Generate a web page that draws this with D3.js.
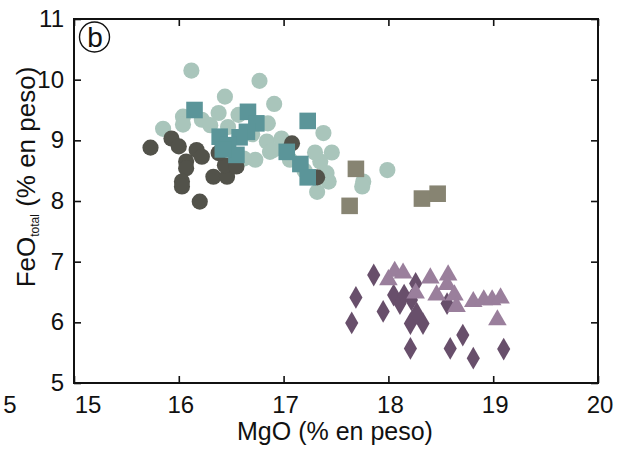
<!DOCTYPE html>
<html>
<head>
<meta charset="utf-8">
<script src="https://cdn.jsdelivr.net/npm/d3@7"></script>
<style>
  body { margin: 0; background: #fff; }
  text { font-family: "Liberation Sans", Arial, sans-serif; fill: #111; }
</style>
</head>
<body>
<svg id="chart" width="623" height="450"></svg>
<script>
// MgO, FeO pairs
const lightCircles = [
  [16.12, 10.15], [16.77, 9.98], [16.44, 9.72], [16.91, 9.60], [15.85, 9.19],
  [16.04, 9.39], [16.04, 9.26], [16.22, 9.34], [16.38, 9.45], [16.57, 9.42],
  [16.47, 9.22], [16.85, 9.28], [16.73, 8.68], [16.84, 8.98], [16.87, 8.81],
  [16.98, 9.03], [17.38, 9.12], [17.46, 8.80], [17.35, 8.65], [17.41, 8.46],
  [17.43, 8.32], [17.32, 8.15], [17.76, 8.32], [17.75, 8.24], [17.99, 8.51],
  [17.06, 8.68], [16.90, 8.84], [16.62, 8.70], [17.20, 8.50], [16.70, 9.10],
  [16.30, 9.25], [17.30, 8.80]
]
const darkCircles = [
  [15.73, 8.88], [15.93, 9.03], [16.00, 8.90], [16.17, 8.84], [16.22, 8.73],
  [16.07, 8.65], [16.07, 8.54], [16.03, 8.32], [16.03, 8.24], [16.20, 7.99],
  [16.33, 8.40], [16.46, 8.40], [16.44, 8.59], [16.55, 8.57], [16.38, 8.79],
  [17.08, 8.95], [17.32, 8.39]
]
const tealSquares = [
  [16.15, 9.50], [16.66, 9.47], [16.74, 9.28], [16.65, 9.14], [16.58, 9.05],
  [16.39, 9.06], [16.47, 8.92], [16.55, 8.76], [16.42, 8.85], [17.23, 9.32],
  [17.03, 8.81], [17.16, 8.61], [17.23, 8.39]
]
const graySquares = [
  [17.69, 8.53], [17.63, 7.92], [18.32, 8.04], [18.47, 8.12]
]
const diamonds = [
  [17.86, 6.78], [17.69, 6.41], [17.65, 5.99], [17.95, 6.18], [18.05, 6.45],
  [18.11, 6.31], [18.22, 6.37], [18.26, 6.64], [18.21, 5.98], [18.33, 5.98],
  [18.27, 6.15], [18.21, 5.57], [18.59, 5.57], [18.71, 5.79], [18.81, 5.41],
  [19.10, 5.56], [18.56, 6.31], [18.15, 6.45]
]
const triangles = [
  [18.06, 6.84], [18.14, 6.81], [18.00, 6.70], [18.40, 6.73], [18.57, 6.78],
  [18.56, 6.62], [18.26, 6.48], [18.46, 6.45], [18.63, 6.45], [18.65, 6.26],
  [18.81, 6.34], [18.91, 6.37], [18.99, 6.37], [19.07, 6.40], [19.04, 6.04]
]
const xTicks = [15, 16, 17, 18, 19, 20]
const yTicks = [5, 6, 7, 8, 9, 10, 11]

const svg = d3.select('#chart')
const m = { left: 74, right: 598, top: 19, bottom: 383 }

const x = d3.scaleLinear().domain([15, 20]).range([m.left, m.right])
const y = d3.scaleLinear().domain([5, 11]).range([m.bottom, m.top])

// inward ticks on all four sides
svg.append('g').attr('transform', `translate(0,${m.bottom})`)
  .call(d3.axisTop(x).tickValues(xTicks).tickSize(7).tickFormat(''))
svg.append('g').attr('transform', `translate(0,${m.top})`)
  .call(d3.axisBottom(x).tickValues(xTicks).tickSize(7).tickFormat(''))
svg.append('g').attr('transform', `translate(${m.left},0)`)
  .call(d3.axisRight(y).tickValues(yTicks).tickSize(7).tickFormat(''))
svg.append('g').attr('transform', `translate(${m.right},0)`)
  .call(d3.axisLeft(y).tickValues(yTicks).tickSize(7).tickFormat(''))
svg.selectAll('.domain').remove()
svg.selectAll('.tick line').attr('stroke', '#111').attr('stroke-width', 1.6)

// tick labels
svg.append('g').selectAll('text').data(xTicks).join('text')
  .attr('x', d => x(d) + (d === 15 ? 14 : 2))
  .attr('y', 413)
  .attr('text-anchor', 'middle')
  .style('font-size', '24px')
  .text(d => d)

svg.append('g').selectAll('text').data(yTicks).join('text')
  .attr('x', 64)
  .attr('y', d => y(d) + 8)
  .attr('text-anchor', 'end')
  .style('font-size', '24px')
  .text(d => d)

// stray label from neighbouring panel
svg.append('text').attr('x', 10).attr('y', 413).attr('text-anchor', 'middle')
  .style('font-size', '24px').text('5')

// frame
svg.append('rect')
  .attr('x', m.left).attr('y', m.top)
  .attr('width', m.right - m.left).attr('height', m.bottom - m.top)
  .attr('fill', 'none').attr('stroke', '#111').attr('stroke-width', 2)

// axis titles
svg.append('text')
  .attr('x', 335).attr('y', 440)
  .attr('text-anchor', 'middle')
  .style('font-size', '25px')
  .text('MgO (% en peso)')

let yl = svg.append('text')
  .attr('transform', 'translate(35,177) rotate(-90)')
  .attr('text-anchor', 'middle')
  .style('font-size', '26px')
yl.append('tspan').text('FeO')
yl.append('tspan').attr('dy', 4).style('font-size', '12px').text('total')
yl.append('tspan').attr('dy', -4).text(' (% en peso)')

// panel letter
svg.append('circle').attr('cx', 94.5).attr('cy', 37).attr('r', 15)
  .attr('fill', 'none').attr('stroke', '#111').attr('stroke-width', 1.4)
svg.append('text').attr('x', 95).attr('y', 47).attr('text-anchor', 'middle')
  .style('font-size', '28px').text('b')

// points
function drawSeries(data, type, size, color) {
  let sym = d3.symbol().type(type).size(size)
  svg.append('g').selectAll('path').data(data).join('path')
    .attr('d', sym)
    .attr('transform', d => `translate(${x(d[0])},${y(d[1])})`)
    .attr('fill', color)
}

drawSeries(lightCircles, d3.symbolCircle, 205, '#a9c5bb')
drawSeries(darkCircles, d3.symbolCircle, 205, '#52524a')
drawSeries(tealSquares, d3.symbolSquare, 275, '#5b9599')
drawSeries(graySquares, d3.symbolSquare, 275, '#878472')
drawSeries(diamonds, d3.symbolDiamond, 150, '#684f6b')
drawSeries(triangles, d3.symbolTriangle, 150, '#9a7f9c')
</script>
</body>
</html>
